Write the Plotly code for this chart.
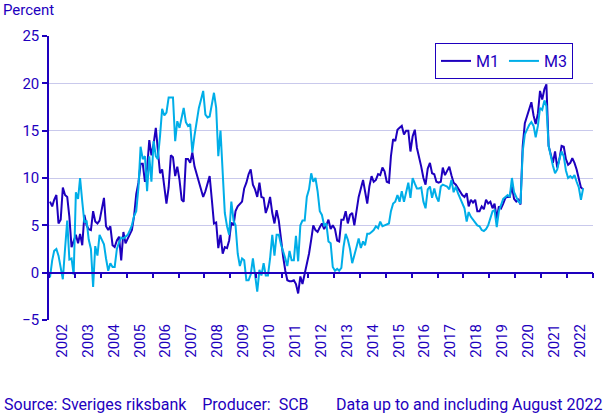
import pandas as pd
import plotly.graph_objects as go

years = list(range(2002, 2023))
tick_labels = [str(y) for y in years]

m1 = [
    7.5, 7.0, 7.7, 8.2, 5.2, 5.6, 9.0, 8.2, 8.0, 5.9, 2.7, 3.4,        # 2002
    4.0, 3.1, 4.1, 2.9, 6.1, 5.0, 4.6, 4.5, 6.5, 5.4, 5.2, 5.5,        # 2003
    6.8, 7.9, 4.9, 4.5, 4.9, 2.9, 2.7, 3.4, 3.8, 1.3, 4.3, 3.1,        # 2004
    3.6, 4.0, 4.5, 6.0, 8.3, 9.5, 11.5, 11.5, 9.6, 11.0, 14.0, 12.4,   # 2005
    13.6, 15.3, 13.0, 10.5, 10.9, 9.3, 7.3, 9.0, 12.4, 12.2, 10.2, 11.2,  # 2006
    9.8, 7.7, 7.5, 12.0, 12.0, 11.6, 12.7, 11.2, 10.4, 9.4, 8.6, 8.0,  # 2007
    8.6, 9.5, 10.2, 7.7, 5.2, 5.3, 2.6, 4.0, 2.0, 2.7, 2.6, 3.4,       # 2008
    5.3, 5.0, 6.5, 7.0, 7.3, 7.5, 8.9, 9.5, 10.4, 10.9, 9.3, 8.8,      # 2009
    8.0, 9.5, 8.0, 7.9, 6.3, 7.0, 8.0, 6.3, 5.2, 6.6, 5.5, 3.5,        # 2010
    1.7, 0.2, -0.8, -0.9, -0.9, -0.8, -1.2, -2.2, -0.4, -1.2, -0.1, 0.6,  # 2011
    2.0, 3.5, 5.0, 4.5, 4.3, 4.8, 5.2, 4.6, 5.0, 5.6, 4.6, 5.0,        # 2012
    4.6, 3.4, 3.3, 5.6, 5.6, 6.5, 5.2, 6.1, 6.3, 5.0, 6.5, 8.0,        # 2013
    8.9, 9.8, 8.6, 7.3, 9.1, 10.2, 9.6, 9.8, 10.4, 10.3, 11.1, 10.7,   # 2014
    9.6, 9.5, 12.3, 14.1, 13.9, 15.1, 15.3, 15.5, 14.6, 15.0, 15.0, 12.8,  # 2015
    14.4, 15.1, 13.2, 12.3, 11.2, 10.0, 9.3, 11.0, 11.6, 10.5, 10.4, 9.6,  # 2016
    9.5, 9.6, 11.1, 10.3, 10.7, 11.2, 10.3, 9.5, 9.3, 8.9, 8.6, 8.2,   # 2017
    8.0, 8.4, 7.0, 7.7, 7.4, 7.7, 6.5, 6.5, 7.0, 6.7, 7.7, 7.3,        # 2018
    7.5, 6.8, 7.3, 5.7, 7.0, 6.8, 7.3, 7.9, 8.0, 8.0, 9.1, 7.8,        # 2019
    7.5, 7.7, 7.2, 13.4, 15.8, 16.5, 17.4, 18.0, 16.6, 15.7, 16.8, 19.2,  # 2020
    18.3, 19.4, 19.9, 13.4, 12.5, 11.6, 12.8, 11.1, 12.0, 13.4, 13.3, 12.0,  # 2021
    11.4, 11.6, 12.1, 11.6, 10.9, 10.0, 9.0, 8.8,                      # 2022
]

m3 = [
    -0.5, 1.3, 2.3, 2.5, 1.8, 0.5, -0.7, 2.5, 5.5, 1.4, 1.5, -0.2,     # 2002
    8.5, 7.8, 10.0, 7.5, 5.3, 5.5, 3.5, 2.5, -1.5, 2.8, 1.8, 4.0,      # 2003
    3.5, 3.0, 1.5, 0.2, 1.0, 0.6, 0.6, 2.5, 3.2, 3.7, 3.6, 3.8,        # 2004
    4.0, 4.5, 5.0, 6.0, 6.5, 9.0, 13.3, 12.0, 12.3, 8.6, 12.3, 9.6,    # 2005
    13.9, 12.3, 12.0, 14.4, 17.3, 16.6, 16.9, 18.5, 18.5, 18.5, 13.9, 16.0,  # 2006
    15.3, 16.4, 17.4, 15.9, 15.5, 15.7, 12.7, 14.5, 15.9, 17.4, 18.3, 19.2,  # 2007
    16.7, 16.4, 16.5, 17.8, 19.0, 17.4, 12.3, 15.0, 10.9, 6.3, 4.9, 4.0,  # 2008
    7.5, 5.5, 5.0, 2.0, 0.7, 1.5, 1.3, -0.8, -0.8, -0.2, 1.5, -0.5,    # 2009
    -2.0, 0.3, -0.3, 1.0, -0.3, -0.3, 1.5, 4.0, 1.8, 4.0, 4.0, 3.0,    # 2010
    2.3, 1.5, 0.7, 2.3, 1.3, 1.3, 3.9, 1.2, 5.0, 5.5, 5.5, 8.0,        # 2011
    8.8, 10.5, 9.6, 10.0, 8.6, 6.5, 6.1, 5.0, 5.2, 3.3, 3.1, 0.6,      # 2012
    0.2, 0.4, 0.2, 0.5, 2.7, 4.1, 3.5, 2.5, 1.0, 2.0, 2.7, 3.6,        # 2013
    2.6, 3.3, 2.9, 4.1, 4.1, 4.3, 4.5, 4.9, 4.7, 5.4, 4.9, 5.0,        # 2014
    5.1, 5.2, 6.5, 7.3, 7.5, 8.2, 7.5, 8.6, 7.5, 8.6, 9.5, 7.9,        # 2015
    10.0, 9.4, 8.9, 8.9, 9.0, 7.5, 6.8, 8.8, 9.1, 7.9, 8.9, 8.0,       # 2016
    7.5, 9.1, 9.3, 9.2, 9.1, 8.8, 9.8, 8.5, 9.1, 8.4, 7.9, 7.3,        # 2017
    6.8, 5.4, 6.4, 5.9, 5.6, 5.3, 5.0, 4.9, 4.5, 4.4, 4.6, 5.0,        # 2018
    5.8, 6.5, 6.6, 4.8, 6.5, 7.3, 7.8, 8.0, 8.2, 8.0, 10.0, 8.5,       # 2019
    7.9, 7.5, 7.3, 12.8, 14.6, 15.1, 15.6, 15.9, 15.5, 14.3, 15.5, 17.4,  # 2020
    17.2, 18.2, 17.6, 13.4, 12.3, 11.3, 10.5, 10.9, 12.0, 12.8, 12.3, 10.8,  # 2021
    10.0, 10.2, 10.0, 10.3, 9.6, 9.0, 7.7, 8.9,                        # 2022
]

dates = pd.date_range("2002-01-01", periods=len(m1), freq="MS") + pd.Timedelta(days=14)

DARK = "#1e00be"
LIGHT = "#00aee8"
GRID = "#c9c9ec"
FONT = "Roboto"
NB = "\u00a0"

fig = go.Figure()
fig.add_trace(go.Scatter(x=dates, y=m1, mode="lines", name="M1",
                         line=dict(color=DARK, width=2)))
fig.add_trace(go.Scatter(x=dates, y=m3, mode="lines", name="M3",
                         line=dict(color=LIGHT, width=2)))

x_range = ["2002-01-01", "2023-01-01"]
label_pos = [f"{y}-07-02" for y in years]
tick_pos = [f"{y}-01-01" for y in range(2002, 2024)]

W = 544.0
H = 284.0

fig.update_layout(
    width=605, height=416,
    margin=dict(l=49, r=12, t=36, b=96),
    paper_bgcolor="white", plot_bgcolor="white",
    font=dict(family=FONT, color=DARK, size=14),
    showlegend=True,
    legend=dict(orientation="h", x=(573 - 49) / W, xanchor="right",
                y=(320 - 43) / H, yanchor="top",
                bordercolor=DARK, borderwidth=1, bgcolor="white",
                font=dict(size=16, color=DARK), itemwidth=30,
                tracegroupgap=0),
    xaxis=dict(range=x_range, tickmode="array", tickvals=label_pos, ticktext=tick_labels,
               tickangle=-90, ticks="", showgrid=False, showline=False, zeroline=False,
               tickfont=dict(size=15, color=DARK)),
    xaxis2=dict(range=x_range, overlaying="x", anchor="free", position=1/6,
                tickmode="array", tickvals=tick_pos, ticks="outside", ticklen=5,
                tickcolor=DARK, tickwidth=1.5, showticklabels=False, showgrid=False,
                showline=True, linecolor=DARK, linewidth=1.5, zeroline=False),
    yaxis=dict(range=[-5, 25], tickmode="array", tickvals=[-5, 0, 5, 10, 15, 20, 25],
               showgrid=True, gridcolor=GRID, gridwidth=1, zeroline=False,
               showline=True, linecolor=DARK, linewidth=1.5,
               ticks="outside", ticklen=5, tickcolor=DARK, tickwidth=1.5,
               tickfont=dict(size=15, color=DARK)),
    annotations=[
        dict(text="Percent", xref="paper", yref="paper", x=(1 - 49) / W, y=(320 - 10) / H,
             xanchor="left", yanchor="middle", showarrow=False,
             font=dict(size=15, color=DARK)),
        dict(text="Source:" + NB + "Sveriges" + NB + "riksbank" + NB * 4 + "Producer:" + NB * 2 + "SCB",
             xref="paper", yref="paper",
             x=(2 - 49) / W, y=(320 - 404) / H, xanchor="left", yanchor="middle",
             showarrow=False, font=dict(size=16, color=DARK)),
        dict(text="Data up to and including August 2022", xref="paper", yref="paper",
             x=(334 - 49) / W, y=(320 - 404) / H, xanchor="left", yanchor="middle",
             showarrow=False, font=dict(size=16, color=DARK)),
    ],
)

# invisible trace so xaxis2 is rendered
fig.add_trace(go.Scatter(x=[dates[0]], y=[None], xaxis="x2", yaxis="y",
                         showlegend=False, hoverinfo="skip", mode="lines"))

fig.write_html("out.html", config={"displayModeBar": False},
               post_script="document.body.style.margin='0';document.body.style.padding='0';")
